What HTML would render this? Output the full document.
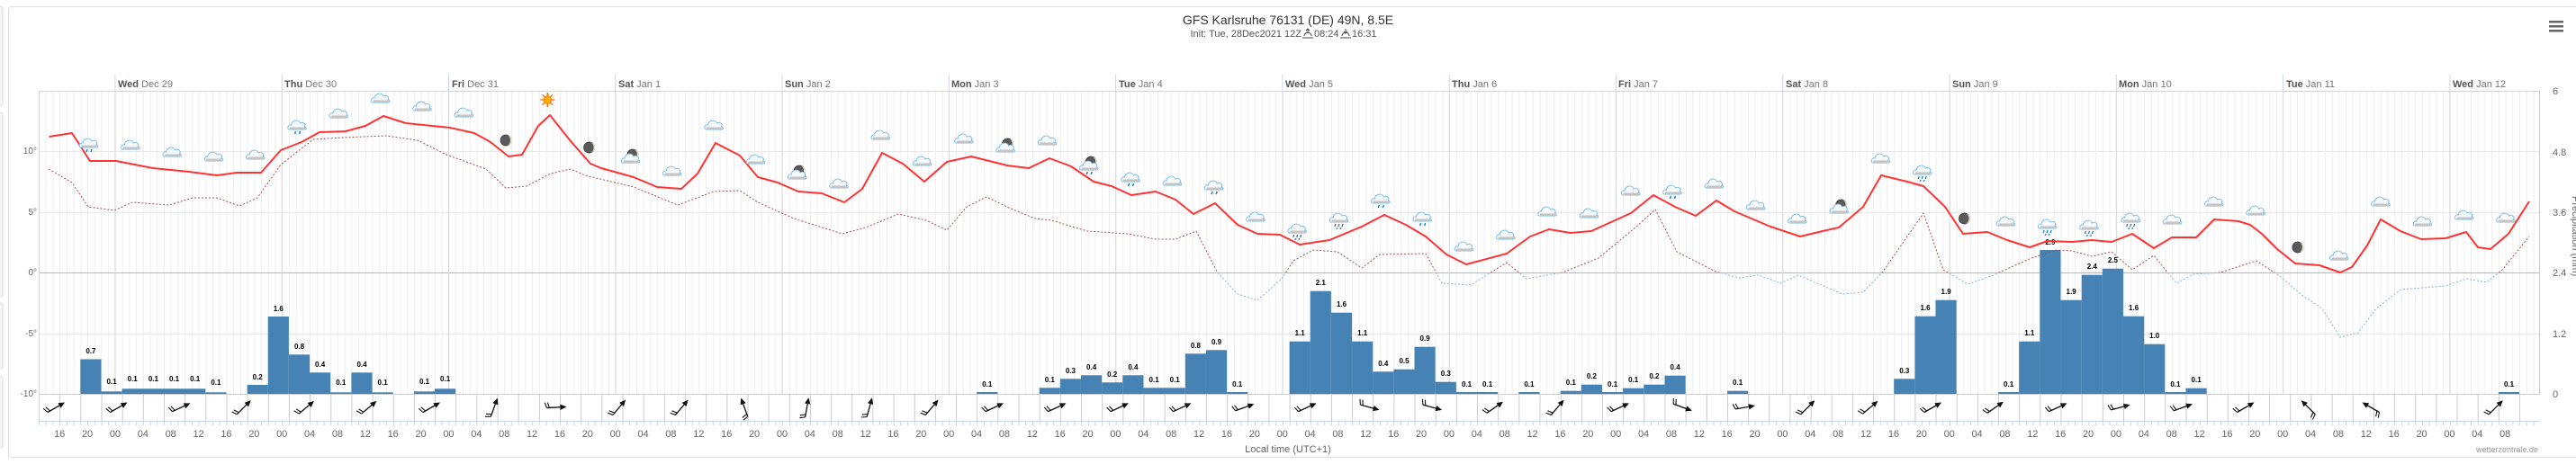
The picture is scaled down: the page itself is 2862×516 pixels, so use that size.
<!DOCTYPE html>
<html><head><meta charset="utf-8"><style>
body{margin:0;background:#fff;}
#w{position:relative;width:2862px;height:516px;overflow:hidden;font-family:"Liberation Sans",sans-serif;}
#ticks{position:absolute;left:50.76px;top:476px;display:flex;font-size:11px;color:#666;line-height:14px;}
#ticks span{display:block;width:30.88px;text-align:center;flex:none;}
</style></head><body><div id="w">
<svg width="2862" height="516" viewBox="0 0 2862 516" xmlns="http://www.w3.org/2000/svg" style="position:absolute;left:0;top:0" font-family="Liberation Sans, sans-serif">
<defs>
<pattern id="hg" x="43" y="0" width="7.72" height="10" patternUnits="userSpaceOnUse"><rect x="0" y="0" width="1" height="10" fill="#eeeeee"/></pattern>
<pattern id="wg" x="43" y="0" width="23.16" height="10" patternUnits="userSpaceOnUse"><rect x="0" y="0" width="1" height="10" fill="#cccccc"/></pattern>
<pattern id="mt" x="43" y="0" width="7.72" height="10" patternUnits="userSpaceOnUse"><rect x="0" y="0" width="1" height="10" fill="#c8d6ec"/></pattern>
<clipPath id="above"><rect x="0" y="0" width="2862" height="303"/></clipPath>
<clipPath id="below"><rect x="0" y="303" width="2862" height="213"/></clipPath>
<polyline id="dp" fill="none" points="54,188 80,203 98,230 127,234 147,225 188,228 214,220 241,220 266,229 286,220 312,183 348,155 380,153 429,151 464,156 496,172 540,188 562,209 585,207 612,193 634,188 650,195 704,208 753,228 793,213 822,212 842,225 882,243 936,260 962,253 998,238 1029,245 1052,256 1074,230 1096,219 1123,232 1150,243 1168,245 1208,257 1253,260 1284,266 1306,266 1329,257 1352,302 1375,327 1397,334 1424,310 1437,290 1459,278 1486,280 1513,298 1533,283 1584,282 1602,315 1634,317 1674,292 1696,310 1736,303 1776,287 1817,253 1839,233 1863,280 1906,302 1933,309 1954,306 1978,315 1998,306 2047,327 2070,325 2092,302 2137,237 2159,300 2186,316 2212,307 2257,287 2284,278 2302,279 2324,285 2346,280 2369,300 2393,284 2418,315 2437,305 2467,303 2507,290 2533,307 2557,328 2580,343 2600,375 2620,370 2640,343 2667,322 2717,318 2740,310 2763,314 2780,300 2810,263"/>
<g id="cl"><path d="M-9,4 C-12,4 -11,-2 -7,-1 C-7,-6 1,-8 3,-3 C6,-5 10,-2 8,1 C11,2 10,4 8,4 Z" fill="#f6f9fc" stroke="#7cbfe6" stroke-width="1"/><rect x="-8.5" y="1.5" width="17" height="2.5" fill="#c4c4c4"/></g>
<g id="rn"><use href="#cl"/><path d="M-2,6 l-1,3 M3,6 l-1,3" stroke="#2a7fc4" stroke-width="1.5"/></g>
<g id="hv"><use href="#cl"/><path d="M-4,6 l-1,3 M0,6 l-1,3 M4,6 l-1,3 M-2,10 l-1,2 M2,10 l-1,2" stroke="#2a7fc4" stroke-width="1.3"/></g>
<g id="mn"><circle r="6" fill="#5a5a5a" stroke="#333" stroke-width="0.8"/><path d="M1,-5.5 A5.5,5.5 0 0 1 1,5.5 A4,5.5 0 0 0 1,-5.5 Z" fill="#e8e0c0"/></g>
<g id="mc"><g transform="translate(2,-5)"><use href="#mn"/></g><use href="#cl"/></g>
<g id="mcr"><g transform="translate(2,-5)"><use href="#mn"/></g><use href="#rn"/></g>
<g id="sn"><g stroke="#ff6a00" stroke-width="1.3"><path d="M0,-8 V8 M-8,0 H8 M-5.7,-5.7 L5.7,5.7 M-5.7,5.7 L5.7,-5.7"/></g><circle r="4.2" fill="#ffb000" stroke="#ff7a00"/></g>
<g id="ar"><path d="M-11,0 H8" stroke="#111" stroke-width="1.3"/><path d="M11,0 L4,-3.2 L4,3.2 Z" fill="#111"/><path d="M-11,0 L-13,-6 M-8,0 L-10,-6" stroke="#111" stroke-width="1.1"/></g>
</defs>
<rect x="0" y="0" width="2862" height="516" fill="#fff"/>
<g fill="#f5f5f5" stroke="#dcdcdc"><rect x="-6" y="7" width="9" height="111" rx="3"/><rect x="-6" y="125" width="9" height="205" rx="3"/><rect x="-6" y="337" width="9" height="73" rx="3"/><rect x="-6" y="418" width="9" height="80" rx="3"/></g>
<rect x="9.5" y="7.5" width="2870" height="501" rx="3" fill="#fff" stroke="#dedede"/>
<text x="1431" y="27" text-anchor="middle" font-size="14" fill="#333">GFS Karlsruhe 76131 (DE) 49N, 8.5E</text>
<text x="1446" y="41" text-anchor="end" font-size="11" fill="#555">Init: Tue, 28Dec2021 12Z</text>
<g stroke="#444" stroke-width="1" fill="none"><path d="M1447,42 h12 M1449,40 a4,4 0 0 1 8,0 M1453,32 v5 M1451,34 l2,-2 l2,2"/><path d="M1489,42 h12 M1491,40 a4,4 0 0 1 8,0 M1495,32 v5 M1493,35 l2,2 l2,-2"/></g>
<text x="1460" y="41" font-size="11" fill="#555">08:24</text>
<text x="1502" y="41" font-size="11" fill="#555">16:31</text>
<g fill="#666"><rect x="2832" y="23" width="16" height="2.5"/><rect x="2832" y="28" width="16" height="2.5"/><rect x="2832" y="33" width="16" height="2.5"/></g>
<rect x="43" y="101" width="2779" height="337" fill="url(#hg)"/>
<g stroke="#e8e8e8" stroke-width="1"><path d="M43,168.5 H2822 M43,236.5 H2822 M43,371.5 H2822"/></g>
<path d="M43,303.5 H2822" stroke="#b8b8b8"/>
<path d="M43,438.5 H2822" stroke="#cccccc"/>
<rect x="43" y="438" width="2779" height="30" fill="url(#wg)"/>
<g stroke="#dadada"><path d="M127.9,101 V438 M313.2,101 V438 M498.5,101 V438 M683.8,101 V438 M869,101 V438 M1054.3,101 V438 M1239.6,101 V438 M1424.9,101 V438 M1610.2,101 V438 M1795.4,101 V438 M1980.7,101 V438 M2166,101 V438 M2351.3,101 V438 M2536.6,101 V438 M2721.8,101 V438"/></g>
<g stroke="#ccd6eb"><path d="M127.9,83 V101 M313.2,83 V101 M498.5,83 V101 M683.8,83 V101 M869,83 V101 M1054.3,83 V101 M1239.6,83 V101 M1424.9,83 V101 M1610.2,83 V101 M1795.4,83 V101 M1980.7,83 V101 M2166,83 V101 M2351.3,83 V101 M2536.6,83 V101 M2721.8,83 V101"/></g>
<path d="M43,101.5 H2822" stroke="#ccd6eb"/>
<path d="M43.5,101 V468" stroke="#ccd6eb"/>
<path d="M2821.5,101 V438" stroke="#c8c8c8"/>
<path d="M43,468.5 H2822" stroke="#c8d6ec"/>
<rect x="43" y="469" width="2779" height="4" fill="url(#mt)"/>
<g font-size="11" fill="#777">
<text x="131" y="97"><tspan font-weight="bold" fill="#555">Wed</tspan> Dec 29</text>
<text x="316" y="97"><tspan font-weight="bold" fill="#555">Thu</tspan> Dec 30</text>
<text x="502" y="97"><tspan font-weight="bold" fill="#555">Fri</tspan> Dec 31</text>
<text x="687" y="97"><tspan font-weight="bold" fill="#555">Sat</tspan> Jan 1</text>
<text x="872" y="97"><tspan font-weight="bold" fill="#555">Sun</tspan> Jan 2</text>
<text x="1057" y="97"><tspan font-weight="bold" fill="#555">Mon</tspan> Jan 3</text>
<text x="1243" y="97"><tspan font-weight="bold" fill="#555">Tue</tspan> Jan 4</text>
<text x="1428" y="97"><tspan font-weight="bold" fill="#555">Wed</tspan> Jan 5</text>
<text x="1613" y="97"><tspan font-weight="bold" fill="#555">Thu</tspan> Jan 6</text>
<text x="1798" y="97"><tspan font-weight="bold" fill="#555">Fri</tspan> Jan 7</text>
<text x="1984" y="97"><tspan font-weight="bold" fill="#555">Sat</tspan> Jan 8</text>
<text x="2169" y="97"><tspan font-weight="bold" fill="#555">Sun</tspan> Jan 9</text>
<text x="2354" y="97"><tspan font-weight="bold" fill="#555">Mon</tspan> Jan 10</text>
<text x="2540" y="97"><tspan font-weight="bold" fill="#555">Tue</tspan> Jan 11</text>
<text x="2725" y="97"><tspan font-weight="bold" fill="#555">Wed</tspan> Jan 12</text>
</g>
<g font-size="10" fill="#666" text-anchor="end">
<text x="41" y="171">10°</text><text x="41" y="239">5°</text><text x="41" y="306">0°</text><text x="41" y="374">-5°</text><text x="41" y="441">-10°</text>
</g>
<g font-size="11" fill="#666">
<text x="2836" y="105">6</text><text x="2836" y="173">4.8</text><text x="2836" y="240">3.6</text><text x="2836" y="307">2.4</text><text x="2836" y="375">1.2</text><text x="2836" y="442">0</text>
</g>
<text transform="translate(2858,218) rotate(90)" font-size="11" fill="#666">Precipitation (mm)</text>
<g fill="#4682b4">
<rect x="89.3" y="399.5" width="23.16" height="38.5"/>
<rect x="112.5" y="435.3" width="23.16" height="2.7"/>
<rect x="135.6" y="432.3" width="92.7" height="5.7"/>
<rect x="228.3" y="436.3" width="23.16" height="1.7"/>
<rect x="274.6" y="428" width="23.16" height="10"/>
<rect x="297.7" y="352" width="23.16" height="86"/>
<rect x="320.9" y="394.3" width="23.16" height="43.7"/>
<rect x="344" y="414.3" width="23.16" height="23.7"/>
<rect x="367.2" y="436.3" width="23.16" height="1.7"/>
<rect x="390.4" y="414.3" width="23.16" height="23.7"/>
<rect x="413.5" y="436.3" width="23.16" height="1.7"/>
<rect x="459.9" y="435.3" width="23.16" height="2.7"/>
<rect x="483" y="432.3" width="23.16" height="5.7"/>
<rect x="1085.2" y="436" width="23.16" height="2"/>
<rect x="1154.7" y="431.3" width="23.16" height="6.7"/>
<rect x="1177.8" y="421.3" width="23.16" height="16.7"/>
<rect x="1201" y="417.3" width="23.16" height="20.7"/>
<rect x="1224.1" y="425.3" width="23.16" height="12.7"/>
<rect x="1247.3" y="417.3" width="23.16" height="20.7"/>
<rect x="1270.5" y="431.3" width="46.3" height="6.7"/>
<rect x="1316.8" y="393.3" width="23.16" height="44.7"/>
<rect x="1339.9" y="389.3" width="23.16" height="48.7"/>
<rect x="1363.1" y="436" width="23.16" height="2"/>
<rect x="1432.6" y="379.7" width="23.16" height="58.3"/>
<rect x="1455.7" y="323.7" width="23.16" height="114.3"/>
<rect x="1478.9" y="347.7" width="23.16" height="90.3"/>
<rect x="1502.1" y="379.7" width="23.16" height="58.3"/>
<rect x="1525.2" y="413.3" width="23.16" height="24.7"/>
<rect x="1548.4" y="410.7" width="23.16" height="27.3"/>
<rect x="1571.5" y="385.7" width="23.16" height="52.3"/>
<rect x="1594.7" y="424.7" width="23.16" height="13.3"/>
<rect x="1617.9" y="436" width="46.3" height="2"/>
<rect x="1687.3" y="436" width="23.16" height="2"/>
<rect x="1733.7" y="434.7" width="23.16" height="3.3"/>
<rect x="1756.8" y="427.7" width="23.16" height="10.3"/>
<rect x="1780" y="436" width="23.16" height="2"/>
<rect x="1803.1" y="431.7" width="23.16" height="6.3"/>
<rect x="1826.3" y="427.7" width="23.16" height="10.3"/>
<rect x="1849.5" y="417.7" width="23.16" height="20.3"/>
<rect x="1919" y="434.7" width="23.16" height="3.3"/>
<rect x="2104.2" y="421.3" width="23.16" height="16.7"/>
<rect x="2127.4" y="351.7" width="23.16" height="86.3"/>
<rect x="2150.5" y="333.7" width="23.16" height="104.3"/>
<rect x="2220" y="436" width="23.16" height="2"/>
<rect x="2243.2" y="379.7" width="23.16" height="58.3"/>
<rect x="2266.3" y="278" width="23.16" height="160"/>
<rect x="2289.5" y="333.7" width="23.16" height="104.3"/>
<rect x="2312.7" y="305.7" width="23.16" height="132.3"/>
<rect x="2335.8" y="298.7" width="23.16" height="139.3"/>
<rect x="2359" y="351.7" width="23.16" height="86.3"/>
<rect x="2382.1" y="382.7" width="23.16" height="55.3"/>
<rect x="2405.3" y="436" width="23.16" height="2"/>
<rect x="2428.5" y="431.7" width="23.16" height="6.3"/>
<rect x="2775.9" y="436" width="23.16" height="2"/>
</g>
<g font-size="8" font-weight="bold" fill="#000" text-anchor="middle">
<text x="100.9" y="393">0.7</text><text x="124.1" y="427">0.1</text><text x="147.2" y="424">0.1</text><text x="170.4" y="424">0.1</text><text x="193.5" y="424">0.1</text><text x="216.7" y="424">0.1</text><text x="239.9" y="428">0.1</text>
<text x="286.2" y="422">0.2</text><text x="309.3" y="346">1.6</text><text x="332.5" y="388">0.8</text><text x="355.6" y="408">0.4</text><text x="378.8" y="428">0.1</text><text x="402" y="408">0.4</text><text x="425.1" y="428">0.1</text>
<text x="471.5" y="427">0.1</text><text x="494.6" y="424">0.1</text>
<text x="1096.8" y="430">0.1</text><text x="1166.3" y="425">0.1</text><text x="1189.4" y="415">0.3</text><text x="1212.6" y="411">0.4</text><text x="1235.7" y="419">0.2</text><text x="1258.9" y="411">0.4</text><text x="1282.1" y="425">0.1</text><text x="1305.2" y="425">0.1</text><text x="1328.4" y="387">0.8</text><text x="1351.5" y="383">0.9</text><text x="1374.7" y="430">0.1</text>
<text x="1444.2" y="373">1.1</text><text x="1467.3" y="317">2.1</text><text x="1490.5" y="341">1.6</text><text x="1513.7" y="373">1.1</text><text x="1536.8" y="407">0.4</text><text x="1560" y="404">0.5</text><text x="1583.1" y="379">0.9</text><text x="1606.3" y="418">0.3</text><text x="1629.5" y="430">0.1</text><text x="1652.6" y="430">0.1</text><text x="1698.9" y="430">0.1</text>
<text x="1745.3" y="428">0.1</text><text x="1768.4" y="421">0.2</text><text x="1791.6" y="430">0.1</text><text x="1814.7" y="425">0.1</text><text x="1837.9" y="421">0.2</text><text x="1861.1" y="411">0.4</text><text x="1930.6" y="428">0.1</text>
<text x="2115.8" y="415">0.3</text><text x="2139" y="345">1.6</text><text x="2162.1" y="327">1.9</text><text x="2231.6" y="430">0.1</text><text x="2254.8" y="373">1.1</text><text x="2277.9" y="272">2.9</text><text x="2301.1" y="327">1.9</text><text x="2324.3" y="299">2.4</text><text x="2347.4" y="292">2.5</text><text x="2370.6" y="345">1.6</text><text x="2393.7" y="376">1.0</text><text x="2416.9" y="430">0.1</text><text x="2440.1" y="425">0.1</text><text x="2787.5" y="430">0.1</text>
</g>
<g fill="none" stroke-width="1" stroke-dasharray="2,2">
<use href="#dp" clip-path="url(#above)" stroke="#a0524f"/>
<use href="#dp" clip-path="url(#below)" stroke="#8ab4dc"/>
</g>
<polyline fill="none" stroke="#ff3333" stroke-width="2" stroke-linejoin="round" points="54.5,152 80,148 100,179 129,179 170,187 210,191 241,195 263,192 290,192 312,167 335,158 355,147 384,146 406,140 426,129 451,137 500,142 527,148 545,158 565,174 580,172 598,140 611,128 634,157 656,182 668,187 704,197 730,208 757,210 775,193 795,159 822,173 842,197 864,203 887,213 913,215 938,225 958,210 980,170 1003,182 1027,202 1052,180 1079,174 1119,184 1143,187 1166,176 1190,185 1215,202 1235,207 1257,217 1284,213 1306,222 1326,238 1350,226 1375,250 1397,260 1422,261 1444,272 1477,267 1513,252 1538,239 1562,250 1584,263 1607,283 1629,294 1674,282 1700,263 1721,255 1745,259 1768,257 1812,237 1837,217 1861,230 1884,240 1907,223 1927,235 1967,252 2000,263 2025,257 2043,253 2070,230 2090,195 2119,202 2137,207 2161,230 2181,260 2208,258 2230,267 2255,275 2275,268 2302,269 2324,267 2346,269 2369,260 2393,276 2413,264 2440,264 2460,244 2487,246 2500,250 2513,260 2530,277 2550,293 2577,295 2600,303 2613,297 2630,273 2645,244 2667,257 2690,266 2717,265 2740,258 2753,275 2767,277 2787,260 2810,224"/>
<use href="#rn" x="99" y="160"/><use href="#cl" x="145.3" y="162"/><use href="#cl" x="191.6" y="170"/><use href="#cl" x="237.9" y="175"/><use href="#cl" x="284.2" y="173"/><use href="#rn" x="330.5" y="140"/><use href="#cl" x="376.8" y="127"/><use href="#cl" x="423.1" y="110"/><use href="#cl" x="469.4" y="119"/><use href="#cl" x="515.7" y="126"/><use href="#mn" x="562" y="156"/><use href="#sn" x="608.3" y="111"/><use href="#mn" x="654.6" y="164"/>
<use href="#mc" x="700.9" y="177"/><use href="#cl" x="747.2" y="191"/><use href="#cl" x="793.5" y="140"/><use href="#cl" x="839.8" y="178"/><use href="#mc" x="886.1" y="195"/><use href="#cl" x="932.4" y="205"/><use href="#cl" x="978.7" y="151"/><use href="#cl" x="1025" y="180"/><use href="#cl" x="1071.3" y="155"/><use href="#mc" x="1117.6" y="165"/><use href="#cl" x="1163.9" y="157"/><use href="#mcr" x="1210.2" y="185"/><use href="#rn" x="1256.5" y="198"/><use href="#cl" x="1302.8" y="202"/>
<use href="#rn" x="1349.1" y="207"/><use href="#cl" x="1395.4" y="242"/><use href="#hv" x="1441.7" y="255"/><use href="#hv" x="1488" y="243"/><use href="#rn" x="1534.3" y="222"/><use href="#rn" x="1580.6" y="242"/><use href="#cl" x="1626.9" y="275"/><use href="#cl" x="1673.2" y="262"/><use href="#cl" x="1719.5" y="236"/><use href="#cl" x="1765.8" y="238"/><use href="#cl" x="1812.1" y="213"/><use href="#rn" x="1858.4" y="212"/><use href="#cl" x="1904.7" y="205"/><use href="#cl" x="1951" y="229"/><use href="#cl" x="1997.3" y="244"/>
<use href="#mc" x="2043.6" y="233"/><use href="#cl" x="2089.9" y="177"/><use href="#hv" x="2136.2" y="190"/><use href="#mn" x="2182.5" y="243"/><use href="#cl" x="2228.8" y="247"/><use href="#hv" x="2275.1" y="250"/><use href="#hv" x="2321.4" y="251"/><use href="#hv" x="2367.7" y="243"/><use href="#cl" x="2414" y="245"/><use href="#cl" x="2460.3" y="225"/><use href="#cl" x="2506.6" y="235"/><use href="#mn" x="2552.9" y="275"/><use href="#cl" x="2599.2" y="285"/><use href="#cl" x="2645.5" y="225"/><use href="#cl" x="2691.8" y="247"/><use href="#cl" x="2738.1" y="240"/><use href="#cl" x="2784.4" y="243"/>
<g>
<use href="#ar" transform="translate(62.5,453) rotate(-30)"/><use href="#ar" transform="translate(132,453) rotate(-30)"/><use href="#ar" transform="translate(201.5,453) rotate(-25)"/><use href="#ar" transform="translate(271,453) rotate(-45)"/><use href="#ar" transform="translate(340.5,453) rotate(-40)"/><use href="#ar" transform="translate(410,453) rotate(-40)"/><use href="#ar" transform="translate(479.5,453) rotate(-30)"/><use href="#ar" transform="translate(549,453) rotate(-70)"/><use href="#ar" transform="translate(618.5,453) rotate(-3)"/><use href="#ar" transform="translate(688,453) rotate(-50)"/>
<use href="#ar" transform="translate(757.5,453) rotate(-50)"/><use href="#ar" transform="translate(827,453) rotate(-110)"/><use href="#ar" transform="translate(896.5,453) rotate(-80)"/><use href="#ar" transform="translate(966,453) rotate(-75)"/><use href="#ar" transform="translate(1035.5,453) rotate(-50)"/><use href="#ar" transform="translate(1105,453) rotate(-25)"/><use href="#ar" transform="translate(1174.5,453) rotate(-25)"/><use href="#ar" transform="translate(1244,453) rotate(-25)"/><use href="#ar" transform="translate(1313.5,453) rotate(-25)"/><use href="#ar" transform="translate(1383,453) rotate(-20)"/>
<use href="#ar" transform="translate(1452.5,453) rotate(-25)"/><use href="#ar" transform="translate(1522,453) rotate(15)"/><use href="#ar" transform="translate(1591.5,453) rotate(15)"/><use href="#ar" transform="translate(1661,453) rotate(-35)"/><use href="#ar" transform="translate(1730.5,453) rotate(-50)"/><use href="#ar" transform="translate(1800,453) rotate(-25)"/><use href="#ar" transform="translate(1869.5,453) rotate(20)"/><use href="#ar" transform="translate(1939,453) rotate(-10)"/><use href="#ar" transform="translate(2008.5,453) rotate(-45)"/><use href="#ar" transform="translate(2078,453) rotate(-40)"/>
<use href="#ar" transform="translate(2147.5,453) rotate(-30)"/><use href="#ar" transform="translate(2217,453) rotate(-35)"/><use href="#ar" transform="translate(2286.5,453) rotate(-25)"/><use href="#ar" transform="translate(2356,453) rotate(-15)"/><use href="#ar" transform="translate(2425.5,453) rotate(-20)"/><use href="#ar" transform="translate(2495,453) rotate(-30)"/><use href="#ar" transform="translate(2564.5,453) rotate(-135)"/><use href="#ar" transform="translate(2634,453) rotate(-150)"/><use href="#ar" transform="translate(2773,453) rotate(-45)"/>
</g>
<text x="1431" y="503" text-anchor="middle" font-size="11" fill="#666">Local time (UTC+1)</text>
<text x="2820" y="503" text-anchor="end" font-size="9" fill="#999">wetterzentrale.de</text>
</svg>
<div id="ticks"><span>16</span><span>20</span><span>00</span><span>04</span><span>08</span><span>12</span><span>16</span><span>20</span><span>00</span><span>04</span><span>08</span><span>12</span><span>16</span><span>20</span><span>00</span><span>04</span><span>08</span><span>12</span><span>16</span><span>20</span><span>00</span><span>04</span><span>08</span><span>12</span><span>16</span><span>20</span><span>00</span><span>04</span><span>08</span><span>12</span><span>16</span><span>20</span><span>00</span><span>04</span><span>08</span><span>12</span><span>16</span><span>20</span><span>00</span><span>04</span><span>08</span><span>12</span><span>16</span><span>20</span><span>00</span><span>04</span><span>08</span><span>12</span><span>16</span><span>20</span><span>00</span><span>04</span><span>08</span><span>12</span><span>16</span><span>20</span><span>00</span><span>04</span><span>08</span><span>12</span><span>16</span><span>20</span><span>00</span><span>04</span><span>08</span><span>12</span><span>16</span><span>20</span><span>00</span><span>04</span><span>08</span><span>12</span><span>16</span><span>20</span><span>00</span><span>04</span><span>08</span><span>12</span><span>16</span><span>20</span><span>00</span><span>04</span><span>08</span><span>12</span><span>16</span><span>20</span><span>00</span><span>04</span><span>08</span></div>
</div></body></html>
